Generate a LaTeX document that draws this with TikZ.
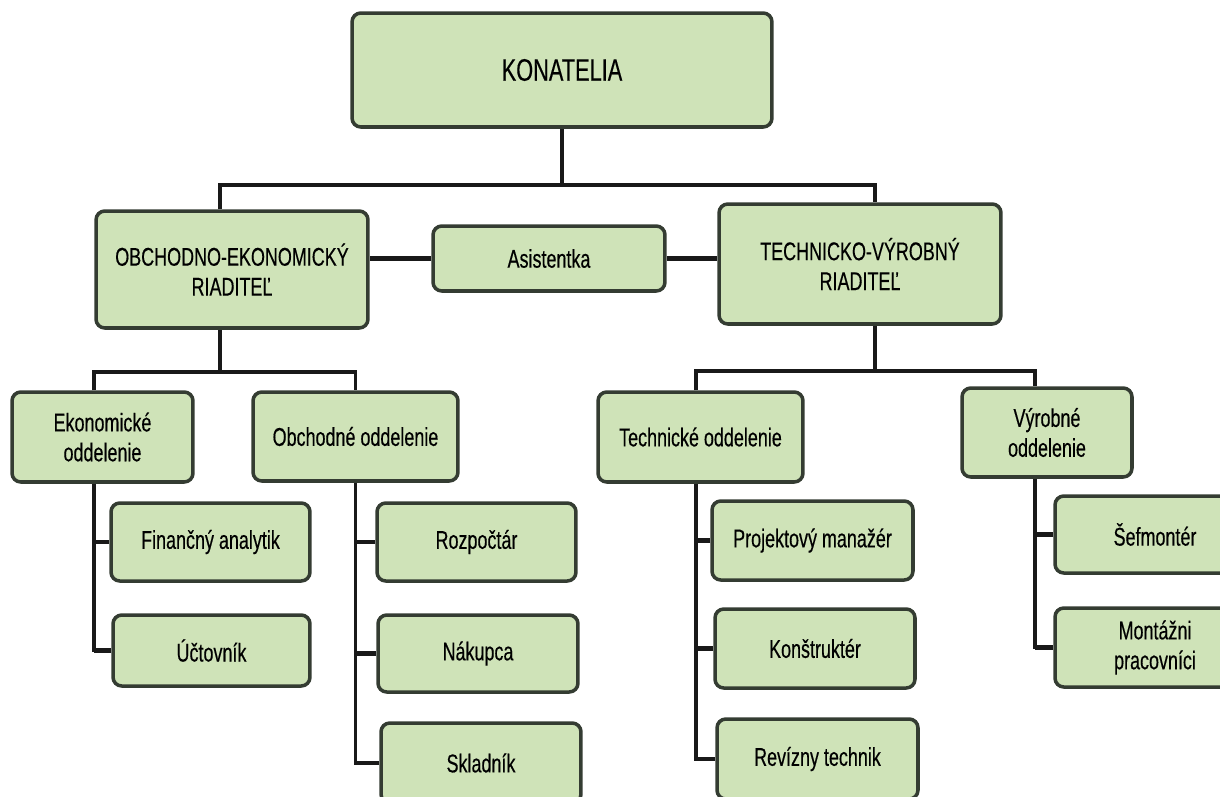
\documentclass[tikz,border=0pt]{standalone}
\usepackage{fontspec}
\setmainfont{Liberation Sans}[FakeStretch=0.7, FakeBold=0.35]
\usepackage{tikz}
\definecolor{boxfill}{RGB}{207,227,184}
\definecolor{boxline}{RGB}{52,60,50}
\tikzset{
    box/.style={draw=boxline, fill=boxfill, line width=2pt, rounded corners=5pt, align=center, inner sep=0pt, font=\fontsize{14.6}{17}\selectfont}, % one job box
    link/.style={line width=2.2pt, draw=black!90}, % tree lines
    stub/.style={line width=2.8pt, draw=black!90} % short branch into a box
}

\begin{document}
\begin{tikzpicture}[x=0.02cm, y=-0.02cm]
    \useasboundingbox (0,0) rectangle (1220,796);
    \clip (0,0) rectangle (1220,796);

    % top and directors
    \node[box, minimum width=8.4cm, minimum height=2.28cm, font=\fontsize{17.7}{20}\selectfont] (kon) at (562,70) {KONATELIA};
    \node[box, minimum width=5.44cm, minimum height=2.34cm] (oer) at (232,269.5) {OBCHODNO-EKONOMICKÝ\\RIADITEĽ};
    \node[box, minimum width=4.64cm, minimum height=1.3cm] (asis) at (549,258.5) {Asistentka};
    \node[box, minimum width=5.64cm, minimum height=2.4cm] (tvr) at (860,264) {TECHNICKO-VÝROBNÝ\\RIADITEĽ};

    % departments
    \node[box, minimum width=3.62cm, minimum height=1.8cm] (ekon) at (102.5,437) {Ekonomické\\oddelenie};
    \node[box, minimum width=4.1cm, minimum height=1.78cm] (obch) at (355.5,436.5) {Obchodné oddelenie};
    \node[box, minimum width=4.1cm, minimum height=1.8cm] (tech) at (700.5,437) {Technické oddelenie};
    \node[box, minimum width=3.4cm, minimum height=1.78cm] (vyr) at (1047,432.5) {Výrobné\\oddelenie};

    % staff
    \node[box, minimum width=3.98cm, minimum height=1.56cm] (fin) at (210.5,542) {Finančný analytik};
    \node[box, minimum width=3.94cm, minimum height=1.42cm] (uct) at (211.5,650.5) {Účtovník};
    \node[box, minimum width=3.98cm, minimum height=1.56cm] (roz) at (476.5,542) {Rozpočtár};
    \node[box, minimum width=4cm, minimum height=1.54cm] (nak) at (478,653.5) {Nákupca};
    \node[box, minimum width=4cm, minimum height=1.6cm] (skl) at (481,763) {Skladník};
    \node[box, minimum width=4.02cm, minimum height=1.58cm] (proj) at (812.5,540.5) {Projektový manažér};
    \node[box, minimum width=4cm, minimum height=1.58cm] (kons) at (815,648.5) {Konštruktér};
    \node[box, minimum width=4.02cm, minimum height=1.6cm] (rev) at (817.5,759) {Revízny technik};
    \node[box, minimum width=4cm, minimum height=1.54cm] (sef) at (1155,534.5) {Šefmontér};
    \node[box, minimum width=4cm, minimum height=1.58cm] (mont) at (1155,647.5) {Montážni\\pracovníci};

    % tree lines
    \draw[link] (kon.south) -- ++(0,56) coordinate (top);
    \draw[link] ([xshift=-0.24cm]oer.north) |- (top) -| ([xshift=0.3cm]tvr.north);
    \draw[stub] (asis.west) -- (asis.west -| oer.east);
    \draw[stub] (asis.east) -- (asis.east -| tvr.west);

    \draw[link] ([xshift=-0.24cm]oer.south) -- ++(0,42) coordinate (midl);
    \draw[link] ([xshift=-0.17cm]ekon.north) |- (midl) -| (obch.north);
    \draw[link] ([xshift=0.3cm]tvr.south) -- ++(0,45) coordinate (midr);
    \draw[link] ([xshift=-0.09cm]tech.north) |- (midr) -| ([xshift=-0.24cm]vyr.north);

    \draw[link] ([xshift=-0.17cm]ekon.south) coordinate (c1) |- (uct.west);
    \draw[link] (obch.south) coordinate (c2) |- (skl.west);
    \draw[link] ([xshift=-0.09cm]tech.south) coordinate (c3) |- (rev.west);
    \draw[link] ([xshift=-0.24cm]vyr.south) coordinate (c4) |- (mont.west);
    \foreach \n/\c in {fin/c1, uct/c1, roz/c2, nak/c2, skl/c2, proj/c3, kons/c3, rev/c3, sef/c4, mont/c4}
        \draw[stub] (\n.west) -- (\n.west -| \c);
\end{tikzpicture}
\end{document}
